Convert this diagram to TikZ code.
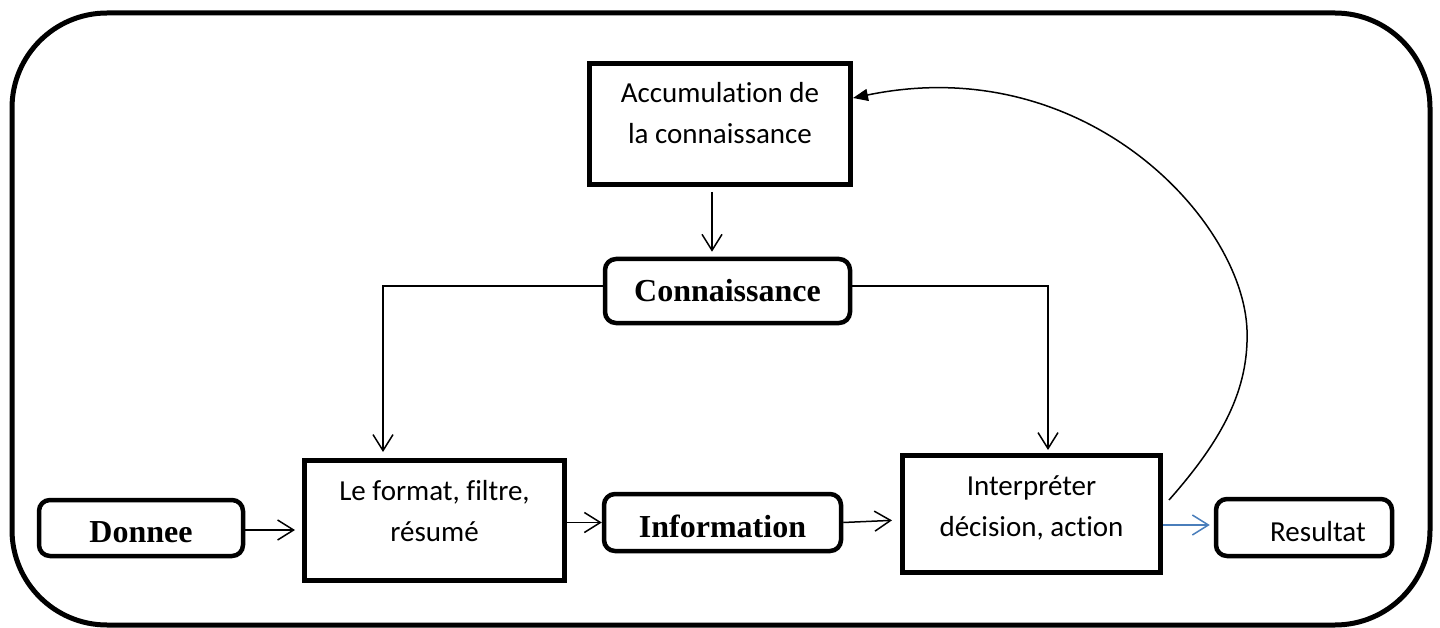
\documentclass[tikz,border=0pt]{standalone}
\usepackage{fontspec}
\setmainfont{Carlito}[Ligatures=NoCommon]
\newfontfamily\tnr{Liberation Serif}
\usetikzlibrary{arrows.meta}
\definecolor{arrblue}{HTML}{4A7EBB}
\tikzset{
  sqbox/.style={draw, line width=5pt, rectangle, inner sep=0pt},
  rbox/.style={draw, line width=4.5pt, rounded corners=11pt, inner sep=0pt},
  tnrtxt/.style={font=\tnr\bfseries\fontsize{32pt}{38pt}\selectfont},
  cal/.style={font=\fontsize{29pt}{41pt}\selectfont, align=center},
  link/.style={line width=1.5pt, -{Straight Barb[length=16pt,width=20pt]}},
  backlink/.style={line width=1.5pt, -{Triangle[length=15pt,width=12pt]}},
  frame/.style={line width=5pt, rounded corners=95pt}
}
\begin{document}
\begin{tikzpicture}[x=1pt,y=-1pt]
\useasboundingbox (0,0) rectangle (1440,628);
\draw[frame] (12,13) rectangle (1430,625);

\node[sqbox, minimum width=261pt, minimum height=121pt,
  label={[cal,yshift=11pt]center:{Accumulation de\\la connaissance}}] (acc) at (720,124) {};
\node[rbox, tnrtxt, minimum width=245pt, minimum height=64pt] (conn) at (727.5,291) {Connaissance};
\node[rbox, tnrtxt, minimum width=204pt, minimum height=56pt] (don) at (141,528)
  {\raisebox{-4pt}[\height][\depth]{Donnee}};
\node[sqbox, minimum width=260pt, minimum height=120pt,
  label={[cal,yshift=9.5pt]center:{Le format, filtre,\\résumé}}] (fmt) at (434.5,520.5) {};
\node[rbox, tnrtxt, minimum width=237pt, minimum height=57pt] (info) at (722.5,522.5)
  {\raisebox{-4pt}[\height][\depth]{Information}\hspace{24pt}};
\node[sqbox, minimum width=258pt, minimum height=117pt,
  label={[cal,yshift=6.5pt]center:{Interpréter\\décision, action}}] (interp) at (1031.5,514) {};
\node[rbox, minimum width=176pt, minimum height=57pt, font=\fontsize{29pt}{35pt}\selectfont] (res) at (1304,527.5)
  {\hspace{28pt}\raisebox{-4pt}[\height][\depth]{Resultat}};

% connectors
\draw[link, shorten <=5pt, shorten >=5pt] (acc.south -| 712,0) -- (conn.north -| 712,0);
\draw[link, shorten >=6pt] ([yshift=5pt]conn.west) -| ([xshift=-51.5pt]fmt.north);
\draw[link, shorten >=3pt] ([yshift=5pt]conn.east) -| ([xshift=16.5pt]interp.north);
\draw[link, shorten >=7pt] ([yshift=-2pt]don.east) -- ([yshift=-2pt]don.east -| fmt.west);
\draw[link] (fmt.east |- info.west) -- (info.west);
\draw[link, shorten >=8pt] (info.east) -- ([yshift=-6pt]interp.west);
\draw[link, arrblue, shorten >=4pt] ([yshift=2.5pt]res.west -| interp.east) -- ([yshift=2.5pt]res.west);
\draw[backlink] ([xshift=6pt,yshift=-47pt]interp.north east)
  .. controls (1222,440) and (1249,390) .. (1247,330)
  .. controls (1243,220) and (1085,50) .. ([yshift=26pt]acc.east);
\end{tikzpicture}
\end{document}
